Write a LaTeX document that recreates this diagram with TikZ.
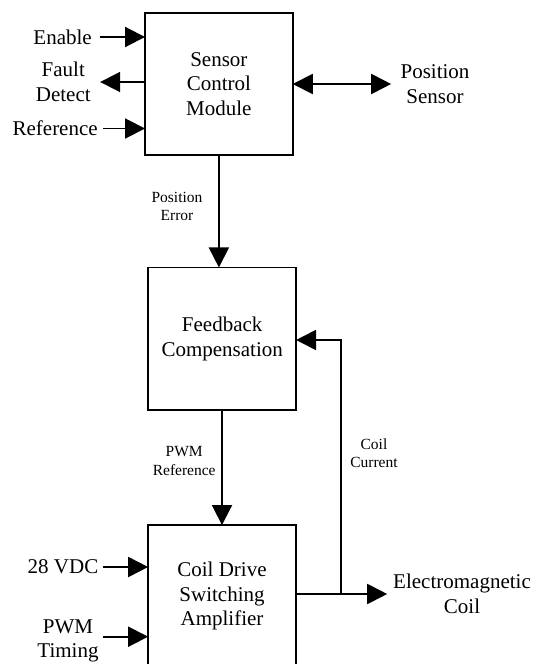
\documentclass[tikz,border=0pt]{standalone}
\usepackage{fontspec}
\setmainfont{Liberation Serif}
\usetikzlibrary{arrows.meta}
\begin{document}
\begin{tikzpicture}[x=1pt,y=-1pt,
  every node/.style={inner sep=0pt, outer sep=0pt},
  block/.style={draw, line width=1.8pt, minimum width=147.7pt, minimum height=142.5pt, align=center,
                font=\fontsize{21}{24.5}\selectfont},
  biglabel/.style={align=center, font=\fontsize{21}{24.5}\selectfont},
  smalllabel/.style={align=center, font=\fontsize{15.5}{18.5}\selectfont},
  wire/.style={line width=1.9pt},
  arr/.style={wire, -{Triangle[length=20pt,width=20pt]}},
  dbl/.style={wire, {Triangle[length=20pt,width=20pt]}-{Triangle[length=20pt,width=20pt]}}]
\useasboundingbox (0,0) rectangle (541,664);

% blocks
\node[block] (scm) at (218.9,83.9) {Sensor\\Control\\Module};
\node[block] (fbc) at (222.2,338.7) {Feedback\\Compensation};
\node[block] (amp) at (222,596.3) {Coil Drive\\Switching\\Amplifier};

% signal names around the sensor control module
\node[biglabel, anchor=east] (enable) at (91.8,37) {Enable};
\node[biglabel] (fault) at (63.3,82) {Fault\\Detect};
\node[biglabel, anchor=east] (ref) at (97.7,128.5) {Reference};
\node[biglabel] (pos) at (435,84) {Position\\Sensor};

% signal names around the amplifier
\node[biglabel, anchor=east] (vdc) at (98.3,567) {28 VDC};
\node[biglabel] (timing) at (68,640.8) {PWM\\Timing};
\node[biglabel] (coil) at (462,593.8) {Electromagnetic\\Coil};

% connector labels
\node[smalllabel] (perr) at (177,206.5) {Position\\Error};
\node[smalllabel] (pwmref) at (184.2,461) {PWM\\Reference};
\node[smalllabel] (icoil) at (374,453.3) {Coil\\Current};

% inputs and outputs of the sensor control module
\draw[arr] ([xshift=8pt]enable.east) -- (scm.west |- enable);
\draw[arr] (scm.west |- fault) -- ([xshift=9.5pt]fault.east);
\draw[arr] ([xshift=5.6pt]ref.east) -- (scm.west |- ref);
\draw[dbl] (scm.east |- pos) -- ([xshift=-9.4pt]pos.west);

% main forward path
\draw[arr] (scm.south) -- (fbc.north -| scm.south);
\draw[arr] (fbc.south -| amp.north) -- (amp.north);

% amplifier inputs
\draw[arr] ([xshift=5pt]vdc.east) -- (amp.west |- vdc);
\draw[arr] ([xshift=4pt]timing.east |- 0,636.7) -- (amp.west |- 0,636.7);

% amplifier output and coil current feedback
\coordinate (tap) at (340.7,594);
\coordinate (fbin) at (340.7,340);
\draw[arr] (amp.east |- tap) -- ([xshift=-6pt]coil.west |- tap);
\draw[arr] (tap) -- (fbin) -- (fbc.east |- fbin);
\end{tikzpicture}
\end{document}
